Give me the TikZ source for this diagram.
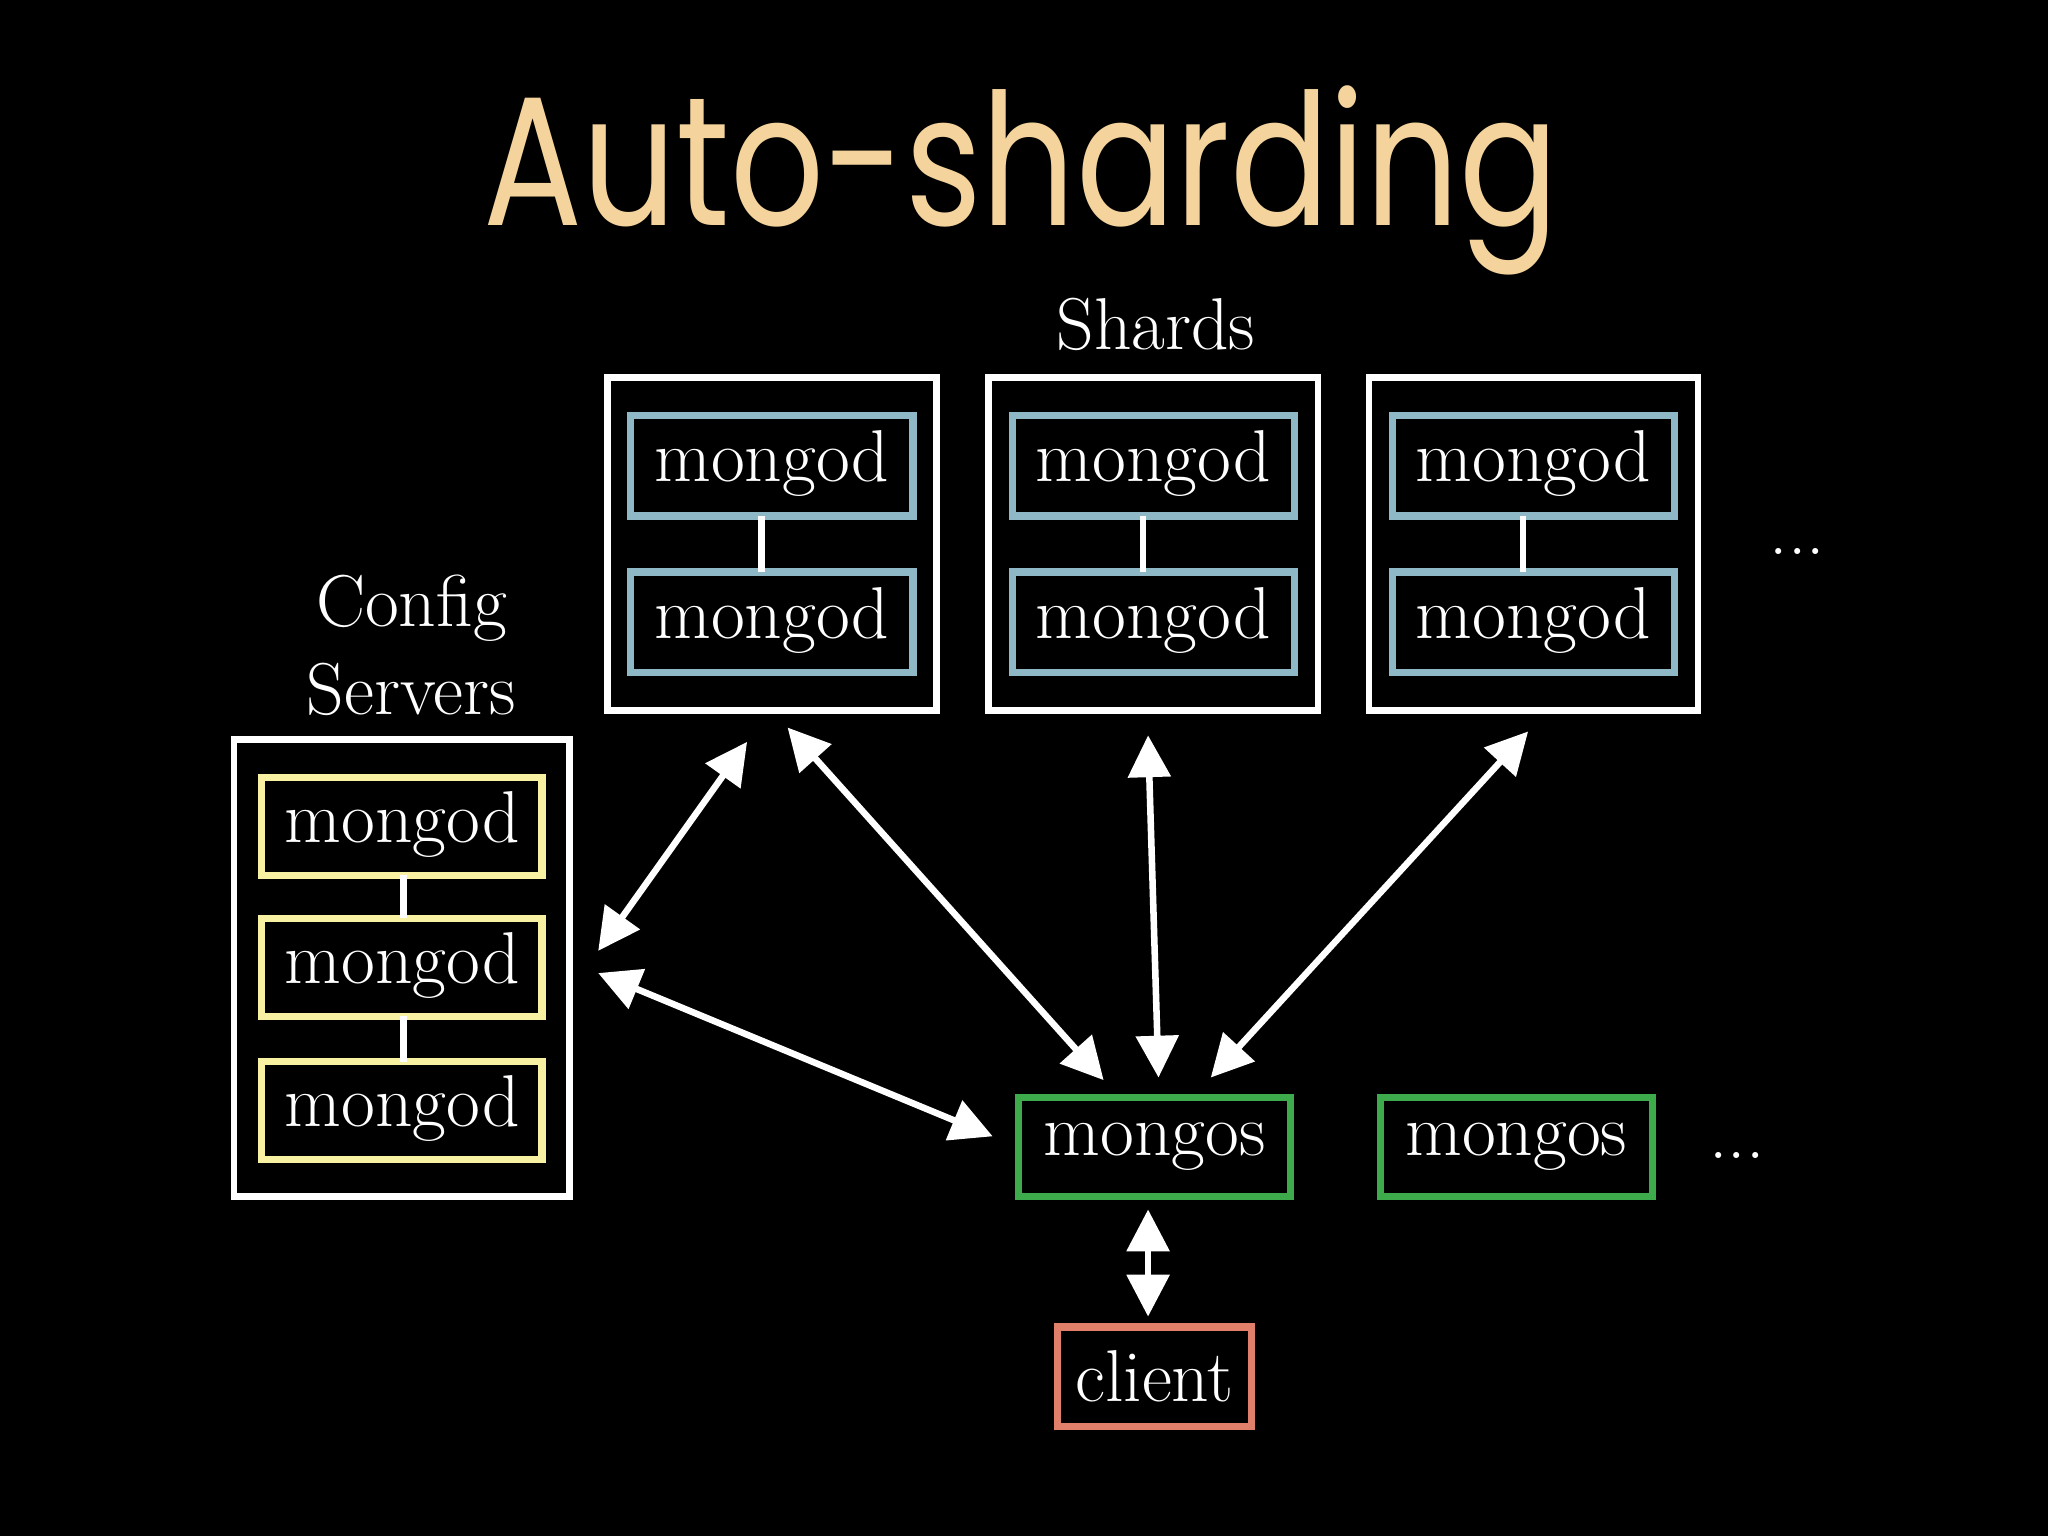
\documentclass[tikz,border=0pt]{standalone}
\usepackage{fontspec}
\newfontfamily\titlefont{Poppins}
\usetikzlibrary{arrows.meta}
\definecolor{titlec}{HTML}{F4D49C}
\definecolor{shardc}{HTML}{8FB8C6}
\definecolor{cfgc}{HTML}{F8F1A2}
\definecolor{mgsc}{HTML}{3DAA4C}
\definecolor{clic}{HTML}{E0806B}
\begin{document}
\begin{tikzpicture}[x=0.01cm,y=-0.01cm,
  txt/.style={text=white,font=\fontsize{16}{19}\selectfont},
  outerbox/.style={draw=white,line width=0.05cm},
  innerbox/.style={line width=0.055cm},
  link/.style={draw=white,line width=0.05cm},
  arr/.style={draw=white,line width=0.05cm,{Triangle[length=0.32cm,width=0.32cm]}-{Triangle[length=0.32cm,width=0.32cm]}}]
\fill[black] (0,0) rectangle (1568,1176);
\useasboundingbox (0,0) rectangle (1568,1176);
\node[text=titlec,font=\titlefont\fontsize{40}{46}\selectfont,xscale=0.8] (title) at (782,138) {Auto-sharding};
\node[txt] (shl) at (885,248) {Shards};
\node[txt,align=center] (cfl) at (315,494) {Config\\Servers};
\foreach \x/\n in {465/a,757/b,1048/c}{
  \draw[outerbox] (\x,289) rectangle (\x+252,544);
  \coordinate (s\n) at (\x+126,416);
  \draw[innerbox,draw=shardc] (\x+18,318) rectangle (\x+234,395);
  \draw[innerbox,draw=shardc] (\x+18,438) rectangle (\x+234,515);
  \draw[link] (\x+118,395) -- (\x+118,438);
  \node[txt] (m1\n) at (\x+126,355) {mongod};
  \node[txt] (m2\n) at (\x+126,475) {mongod};
}
\node[txt] (dots1) at (1376,422) {...};
\draw[outerbox] (179,566) rectangle (436,916);
\foreach \y/\n in {595/a,703/b,813/c}{
  \draw[innerbox,draw=cfgc] (200,\y) rectangle (415,\y+75);
  \node[txt] (c\n) at (308,\y+36) {mongod};
}
\draw[link] (309,670) -- (309,703);
\draw[link] (309,778) -- (309,813);
\node[txt,draw=mgsc,line width=0.055cm,minimum width=2.08cm,minimum height=0.76cm] (ms1) at (884,878) {mongos};
\node[txt,draw=mgsc,line width=0.055cm,minimum width=2.08cm,minimum height=0.76cm] (ms2) at (1161,878) {mongos};
\node[txt] (dots2) at (1330,885) {...};
\node[txt,draw=clic,line width=0.055cm,minimum width=1.48cm,minimum height=0.76cm] (cl) at (884,1054) {client};
\coordinate (p1) at (572,568); \coordinate (p2) at (458,728);
\coordinate (p3) at (458,745); \coordinate (p4) at (760,870);
\coordinate (p5) at (603,557); \coordinate (p6) at (845,827);
\coordinate (p7) at (879,563); \coordinate (p8) at (887,825);
\coordinate (p9) at (1170,560); \coordinate (p10) at (927,825);
\coordinate (p11) at (879,926); \coordinate (p12) at (879,1008);
\draw[arr] (p1) -- (p2);
\draw[arr] (p3) -- (p4);
\draw[arr] (p5) -- (p6);
\draw[arr] (p7) -- (p8);
\draw[arr] (p9) -- (p10);
\draw[arr] (p11) -- (p12);
\end{tikzpicture}
\end{document}
